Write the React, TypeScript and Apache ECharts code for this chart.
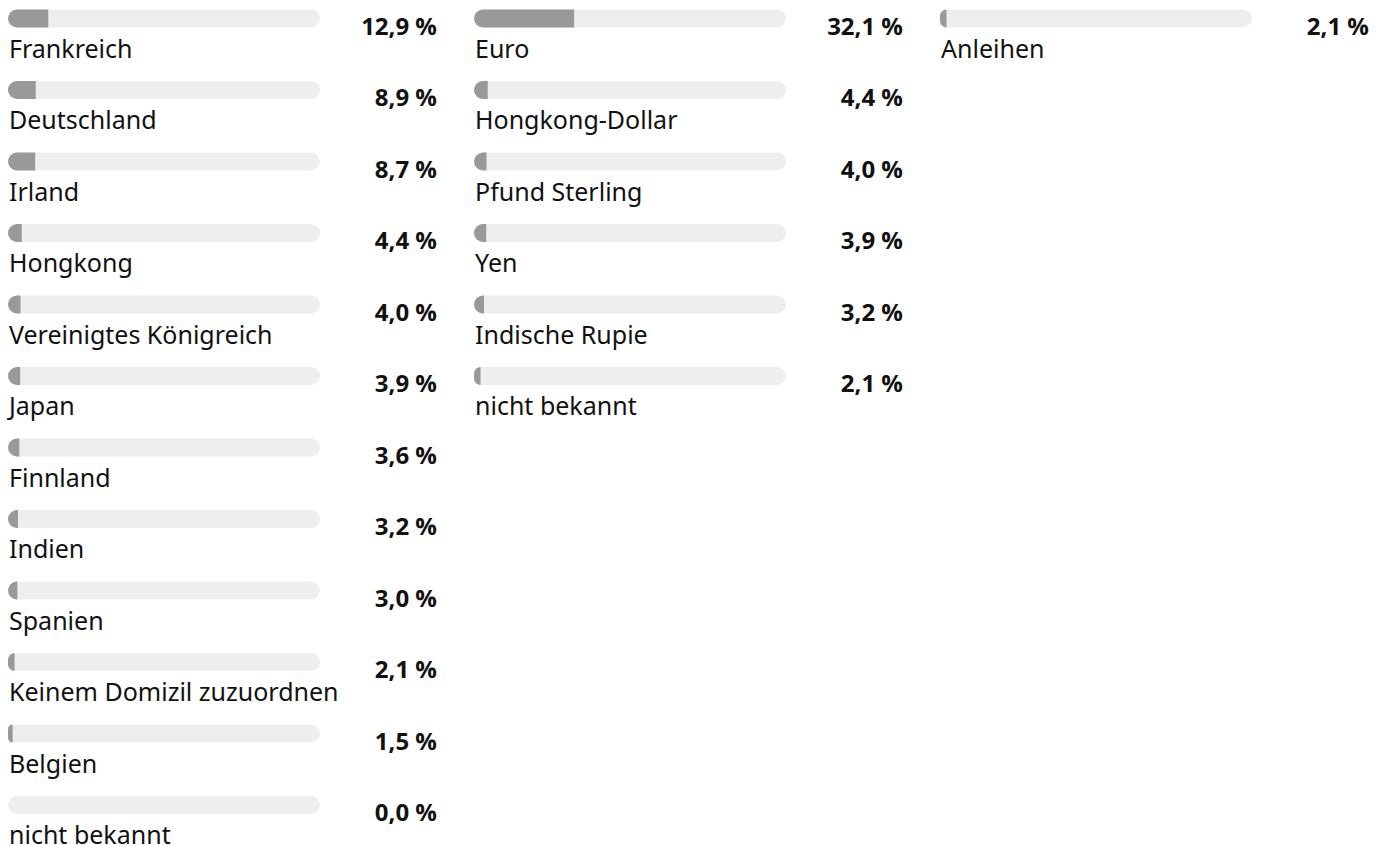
import React, { useEffect, useRef } from "react";
import * as echarts from "echarts";

const countries = [
  "Frankreich",
  "Deutschland",
  "Irland",
  "Hongkong",
  "Vereinigtes Königreich",
  "Japan",
  "Finnland",
  "Indien",
  "Spanien",
  "Keinem Domizil zuzuordnen",
  "Belgien",
  "nicht bekannt",
];
const countryValues = [12.9, 8.9, 8.7, 4.4, 4.0, 3.9, 3.6, 3.2, 3.0, 2.1, 1.5, 0.0];

const currencies = [
  "Euro",
  "Hongkong-Dollar",
  "Pfund Sterling",
  "Yen",
  "Indische Rupie",
  "nicht bekannt",
];
const currencyValues = [32.1, 4.4, 4.0, 3.9, 3.2, 2.1];

const assetClasses = ["Anleihen"];
const assetValues = [2.1];

const groups = [
  { names: countries, values: countryValues },
  { names: currencies, values: currencyValues },
  { names: assetClasses, values: assetValues },
];

const fmt = (v: number) => v.toFixed(1).replace(".", ",") + " %";

const SHIFT = 40;

export default function App() {
  const ref = useRef<HTMLDivElement>(null);
  useEffect(() => {
    document.body.style.margin = "0";
    document.body.style.overflow = "hidden";
    if (!ref.current) return;
    const chart = echarts.init(ref.current, undefined, { renderer: "svg" });
    const ROW = 71.5;
    const TOP = SHIFT + 18.5 - ROW / 2;
    const LEFTS = [8, 474, 940];
    const W = 312;
    const grids: any[] = [];
    const xAxes: any[] = [];
    const yAxes: any[] = [];
    const series: any[] = [];
    groups.forEach((g, i) => {
      grids.push({
        left: LEFTS[i],
        top: TOP,
        width: W,
        height: ROW * g.names.length,
        containLabel: false,
      });
      xAxes.push({
        type: "value",
        gridIndex: i,
        min: 0,
        max: 100,
        show: false,
      });
      yAxes.push({
        type: "category",
        gridIndex: i,
        data: g.names,
        inverse: true,
        show: false,
      });
      series.push({
        type: "bar",
        xAxisIndex: i,
        yAxisIndex: i,
        data: g.values,
        barWidth: 18,
        showBackground: true,
        backgroundStyle: { color: "#eeeeee", borderRadius: 9 },
        itemStyle: { color: "#999999", borderRadius: [9, 0, 0, 9] },
        label: {
          show: true,
          position: [1, 25.5],
          formatter: "{b}",
          fontFamily: "'Noto Sans', sans-serif",
          fontSize: 25,
          color: "#111111",
          align: "left",
          verticalAlign: "top",
        },
      });
      series.push({
        type: "bar",
        xAxisIndex: i,
        yAxisIndex: i,
        data: g.values,
        barWidth: 18,
        barGap: "-100%",
        itemStyle: { color: "rgba(0,0,0,0)" },
        label: {
          show: true,
          position: [429, 3.5],
          formatter: (p: any) => fmt(p.value),
          fontFamily: "'Open Sans', sans-serif",
          fontWeight: "bold",
          fontSize: 24,
          color: "#111111",
          align: "right",
          verticalAlign: "top",
        },
      });
    });
    chart.setOption({
      animation: false,
      backgroundColor: "#ffffff",
      grid: grids,
      xAxis: xAxes,
      yAxis: yAxes,
      series,
    });
    return () => chart.dispose();
  }, []);
  return (
    <div style={{ position: "relative", width: 1385, height: 845, overflow: "hidden" }}>
      <div
        ref={ref}
        style={{ position: "absolute", left: 0, top: -SHIFT, width: 1385, height: 845 + SHIFT }}
      />
    </div>
  );
}
